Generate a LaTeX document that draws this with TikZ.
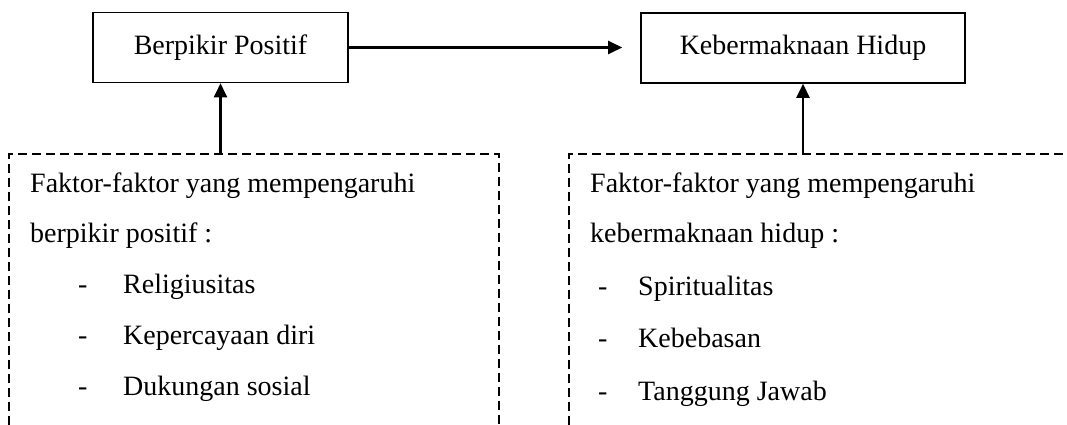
\documentclass[tikz,border=0pt]{standalone}
\usepackage{fontspec}
\setmainfont{Liberation Serif}
\usetikzlibrary{arrows.meta}
\begin{document}
\begin{tikzpicture}[x=1pt,y=-1pt,
  mainbox/.style={draw,line width=1.6pt,minimum width=#1,minimum height=70pt,inner sep=0pt,font=\fontsize{28}{32}\selectfont},
  factor/.style={dash pattern=on 9pt off 5pt,line width=1.4pt},
  conn/.style={line width=2.4pt,-{Triangle[length=14pt,width=13pt]}},
  txt/.style={anchor=base west,inner sep=0pt,font=\fontsize{28}{32}\selectfont}]
\useasboundingbox (0,0) rectangle (1067,425);
\fill[white] (0,0) rectangle (1067,425);
% main boxes
\node[mainbox=255pt] (b1) at (220.5,47.5) {Berpikir Positif};
\node[mainbox=324pt] (b2) at (803,48) {Kebermaknaan Hidup};
% factor boxes (open at the bottom / right)
\draw[factor] (9,425) -- (9,154) -- (499,154) -- (499,425);
\draw[factor] (569,425) -- (569,154) -- (1067,154);
\coordinate (f1top) at (b1.south |- 0,154);
\coordinate (f2top) at (b2.south |- 0,154);
% connectors
\draw[conn,shorten >=18pt] (b1.east) -- (b2.west |- b1.east);
\draw[conn] (f1top) -- (b1.south);
\draw[conn] (f2top) -- (b2.south);
% left factor text
\node[txt] (l1) at (30,192) {Faktor-faktor yang mempengaruhi};
\node[txt] (l2) at (30,242) {berpikir positif :};
\node[txt] (l3d) at (78,293) {-};
\node[txt] (l3) at (123,293) {Religiusitas};
\node[txt] (l4d) at (78,344) {-};
\node[txt] (l4) at (123,344) {Kepercayaan diri};
\node[txt] (l5d) at (78,395) {-};
\node[txt] (l5) at (123,395) {Dukungan sosial};
% right factor text
\node[txt] (r1) at (590,192) {Faktor-faktor yang mempengaruhi};
\node[txt] (r2) at (590,242) {kebermaknaan hidup :};
\node[txt] (r3d) at (598,295) {-};
\node[txt] (r3) at (638,295) {Spiritualitas};
\node[txt] (r4d) at (598,347) {-};
\node[txt] (r4) at (638,347) {Kebebasan};
\node[txt] (r5d) at (598,400) {-};
\node[txt] (r5) at (638,400) {Tanggung Jawab};
\end{tikzpicture}
\end{document}
